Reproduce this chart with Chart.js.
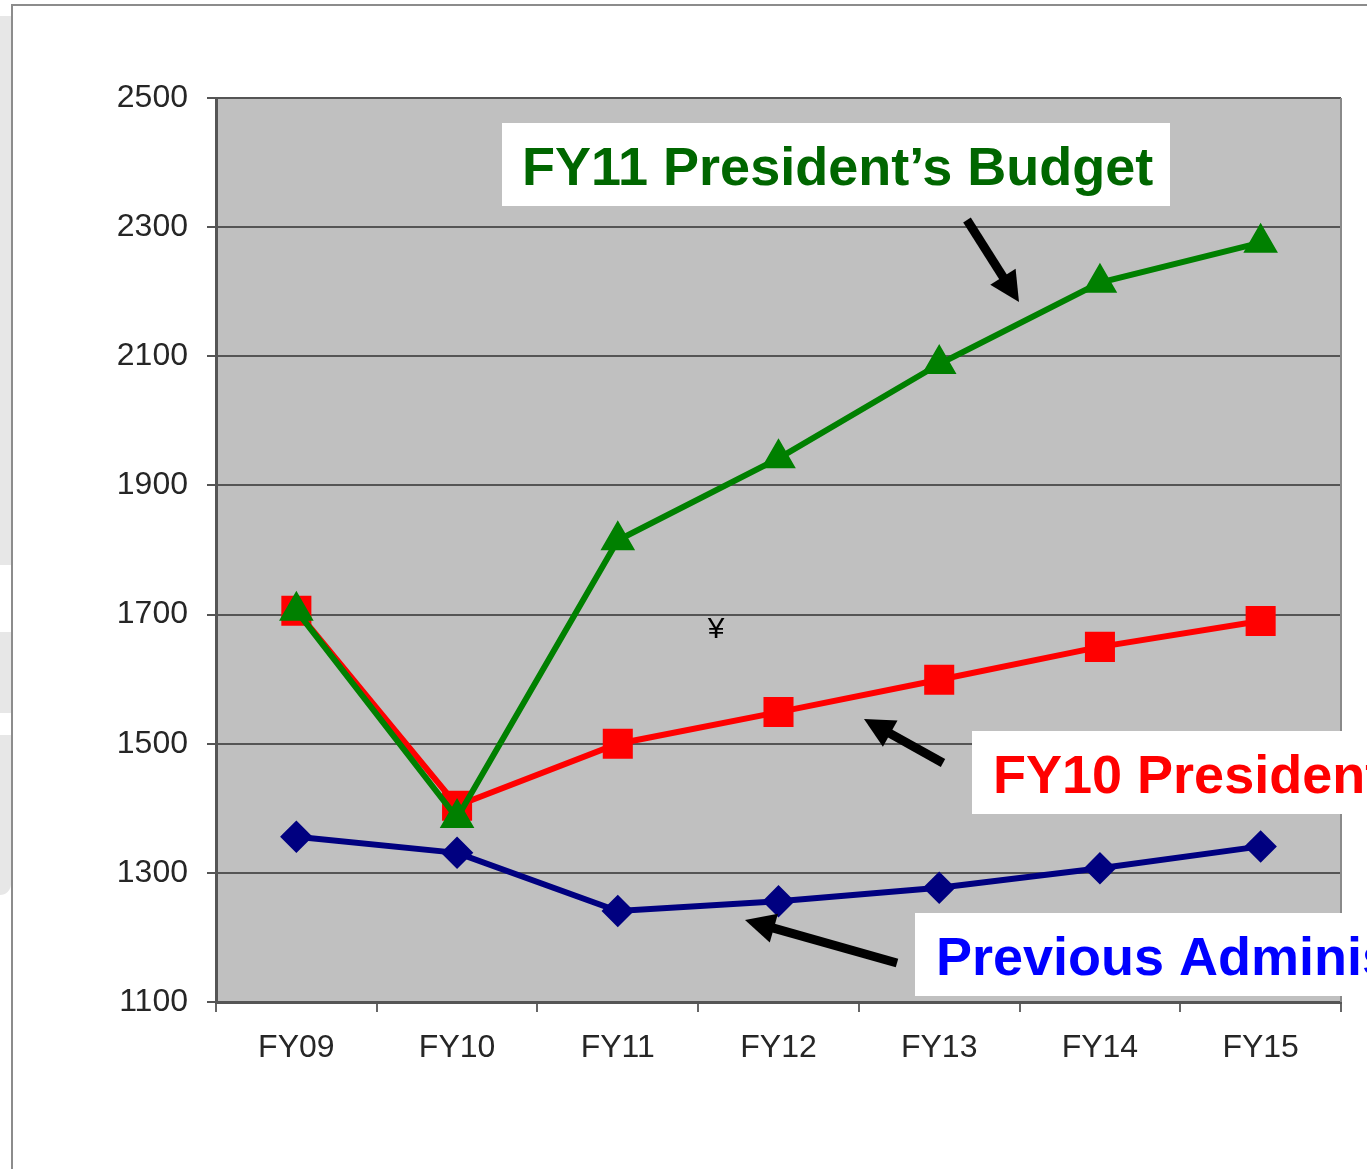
<!DOCTYPE html>
<html>
<head>
<meta charset="utf-8">
<script src="https://cdn.jsdelivr.net/npm/chart.js@4"></script>
<style>
  html, body { margin: 0; padding: 0; background: #fff; }
  #wrap { position: relative; width: 1367px; height: 1169px; overflow: hidden; }
  .strip { position: absolute; left: 0; width: 11px; background: #e7e7e7; }
  #frameTop { position: absolute; left: 12px; top: 4px; width: 1355px; height: 2px; background: #8c8c8c; }
  #frameLeft { position: absolute; left: 11px; top: 4px; width: 2px; height: 1165px; background: #8c8c8c; }
  canvas { position: absolute; left: 0; top: 0; }
</style>
</head>
<body>
<div id="wrap">
  <div class="strip" style="top:16px;height:549px"></div>
  <div class="strip" style="top:632px;height:81px"></div>
  <div class="strip" style="top:735px;height:160px;border-bottom-right-radius:11px"></div>
  <div id="frameTop"></div>
  <div id="frameLeft"></div>
  <canvas id="budgetChart" width="1367" height="1169"></canvas>
</div>
<script>
// categories and series
const years = ["FY09", "FY10", "FY11", "FY12", "FY13", "FY14", "FY15"];
const fy11Budget = [1706, 1385, 1815, 1942, 2088, 2214, 2276];
const fy10Budget = [1706, 1404, 1500, 1549, 1599, 1650, 1690];
const previousAdmin = [1356, 1331, 1241, 1256, 1277, 1307, 1341];
const yTicks = [1100, 1300, 1500, 1700, 1900, 2100, 2300, 2500];

const tickFont = { family: "'Liberation Sans', Arial, sans-serif", size: 32 };

// grey plot background + right border
const plotBg = {
  id: "plotBg",
  beforeDraw(chart) {
    const { ctx, chartArea: a } = chart;
    ctx.save();
    ctx.fillStyle = "#c0c0c0";
    ctx.fillRect(a.left, a.top, a.right - a.left, a.bottom - a.top);
    ctx.restore();
  },
  beforeDatasetsDraw(chart) {
    const { ctx, chartArea: a } = chart;
    ctx.save();
    ctx.strokeStyle = "#8a8a8a";
    ctx.lineWidth = 2;
    ctx.beginPath();
    ctx.moveTo(a.right, a.top);
    ctx.lineTo(a.right, a.bottom);
    ctx.stroke();
    ctx.restore();
  },
};

function arrow(ctx, x1, y1, x2, y2) {
  const ang = Math.atan2(y2 - y1, x2 - x1);
  const head = 30, half = 15;
  const bx = x2 - head * Math.cos(ang), by = y2 - head * Math.sin(ang);
  ctx.beginPath();
  ctx.moveTo(x1, y1);
  ctx.lineTo(bx + 4 * Math.cos(ang), by + 4 * Math.sin(ang));
  ctx.lineWidth = 9;
  ctx.stroke();
  ctx.beginPath();
  ctx.moveTo(x2, y2);
  ctx.lineTo(bx + half * Math.sin(ang), by - half * Math.cos(ang));
  ctx.lineTo(bx - half * Math.sin(ang), by + half * Math.cos(ang));
  ctx.closePath();
  ctx.fill();
}

// callout labels and arrows
const callouts = {
  id: "callouts",
  afterDraw(chart) {
    const ctx = chart.ctx;
    ctx.save();
    ctx.font = "bold 54px 'Liberation Sans', Arial, sans-serif";
    ctx.textBaseline = "alphabetic";
    const boxes = [
      { x: 502, y: 123, w: 668, h: 83, text: "FY11 President\u2019s Budget", color: "#006600", tx: 522, ty: 185 },
      { x: 972, y: 731, w: 420, h: 83, text: "FY10 President\u2019s Budget", color: "#ff0000", tx: 993, ty: 793 },
      { x: 915, y: 913, w: 470, h: 83, text: "Previous Administration", color: "#0000ff", tx: 936, ty: 975 },
    ];
    boxes.forEach((b) => {
      ctx.fillStyle = "#fff";
      ctx.fillRect(b.x, b.y, b.w, b.h);
      ctx.fillStyle = b.color;
      ctx.fillText(b.text, b.tx, b.ty);
    });
    ctx.fillStyle = "#000";
    ctx.strokeStyle = "#000";
    arrow(ctx, 967, 220, 1019, 302);
    arrow(ctx, 943, 763, 864, 719);
    arrow(ctx, 897, 963, 745, 920);
    // stray yen mark in the source
    ctx.font = "30px 'Liberation Sans', Arial, sans-serif";
    ctx.textAlign = "center";
    ctx.fillText("\u00a5", 716, 638);
    ctx.restore();
  },
};

new Chart(document.getElementById("budgetChart"), {
  type: "line",
  data: {
    labels: years,
    datasets: [
      {
        label: "FY11 President's Budget",
        data: fy11Budget,
        borderColor: "#008000",
        backgroundColor: "#008000",
        borderWidth: 6,
        pointStyle: "triangle",
        pointRadius: 14,
        order: 1,
      },
      {
        label: "FY10 President's Budget",
        data: fy10Budget,
        borderColor: "#ff0000",
        backgroundColor: "#ff0000",
        borderWidth: 6,
        pointStyle: "rect",
        pointRadius: 17,
        order: 2,
      },
      {
        label: "Previous Administration",
        data: previousAdmin,
        borderColor: "#000080",
        backgroundColor: "#000080",
        borderWidth: 6,
        pointStyle: "rectRot",
        pointRadius: 12,
        order: 3,
      },
    ],
  },
  options: {
    responsive: false,
    animation: false,
    devicePixelRatio: 1,
    layout: { padding: { top: 98, right: 26, left: 0, bottom: 0 } },
    elements: { line: { tension: 0 }, point: { borderWidth: 0 } },
    plugins: { legend: { display: false }, tooltip: { enabled: false } },
    scales: {
      x: {
        offset: true,
        afterFit: (scale) => { scale.height = 167; },
        grid: { offset: true, drawOnChartArea: false, drawTicks: true, tickLength: 10, color: "#666", lineWidth: 2 },
        border: { color: "#555", width: 3 },
        ticks: { font: tickFont, color: "#262626", padding: 17, maxRotation: 0 },
      },
      y: {
        min: yTicks[0],
        max: yTicks[yTicks.length - 1],
        afterFit: (scale) => { scale.width = 216; },
        afterBuildTicks: (scale) => { scale.ticks = yTicks.map((v) => ({ value: v })); },
        grid: { color: "#555", lineWidth: 2, tickLength: 9 },
        border: { color: "#555", width: 3 },
        ticks: { font: tickFont, color: "#262626", padding: 19, callback: (v) => String(v) },
      },
    },
  },
  plugins: [plotBg, callouts],
});
</script>
</body>
</html>
